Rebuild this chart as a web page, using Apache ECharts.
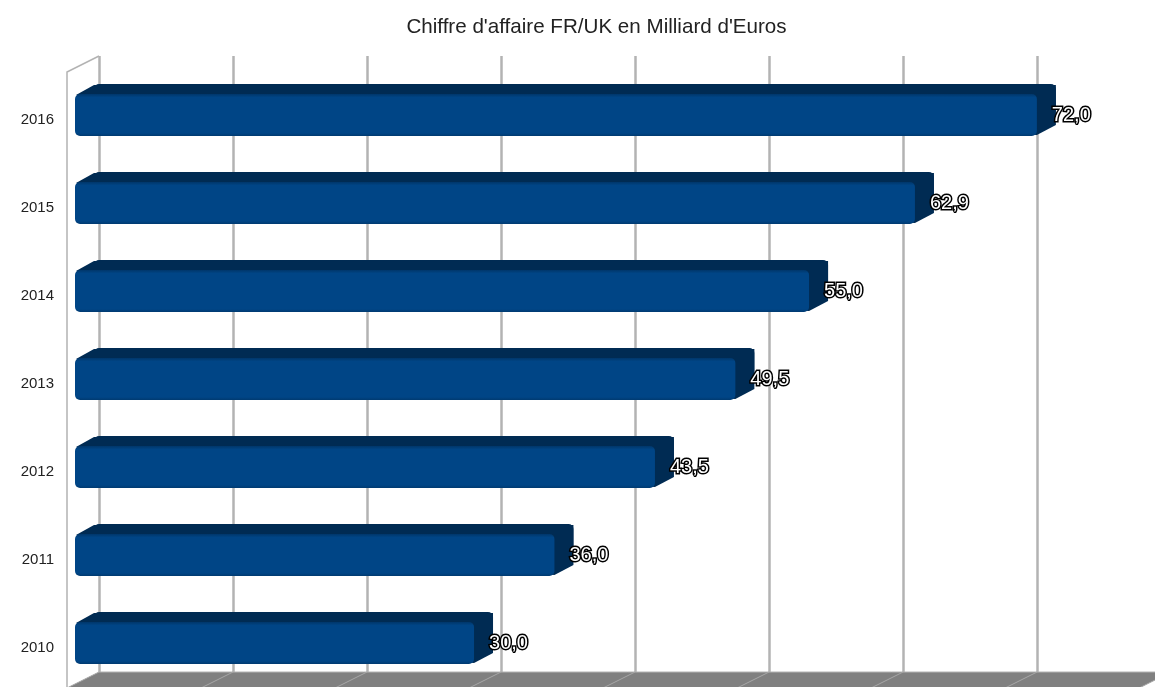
<!DOCTYPE html>
<html>
<head>
<meta charset="utf-8">
<style>
  html, body { margin: 0; padding: 0; background: #fff; }
  #chart { width: 1155px; height: 687px; }
</style>
<script src="https://cdn.jsdelivr.net/npm/echarts@6/dist/echarts.min.js"></script>
</head>
<body>
<div id="chart"></div>
<script>
var annees = ['2010', '2011', '2012', '2013', '2014', '2015', '2016'];
var chiffreAffaire = [30.0, 36.0, 43.5, 49.5, 55.0, 62.9, 72.0];
var graduations = [0, 10, 20, 30, 40, 50, 60, 70, 80];

var fontFamily = '"Liberation Sans", Arial, sans-serif';
var color_blue = '#004586';
var color_blue_dark = '#002b53';
var color_grid = '#b3b3b3';

// mur gauche et sol, dessines derriere les barres
function renderSol(params, api) {
  var sys = params.coordSys;
  var bas = sys.y + sys.height;
  var x0 = sys.x;
  var x1 = api.coord([80, 0])[0];
  var elements = [
    {
      type: 'polygon',
      shape: {points: [[x0, bas], [x1, bas], [x1 - 32, bas + 16], [x0 - 32, bas + 16]]},
      style: {fill: '#808080'}
    },
    {
      type: 'line',
      shape: {x1: x0, y1: bas, x2: x1, y2: bas},
      style: {stroke: color_grid, lineWidth: 1}
    },
    {
      type: 'polyline',
      shape: {points: [[x0 - 32, bas + 16], [x0 - 32, sys.y + 16], [x0, sys.y]]},
      style: {stroke: color_grid, lineWidth: 1.5, fill: null}
    }
  ];
  graduations.forEach(function (v) {
    var x = api.coord([v, 0])[0];
    elements.push({
      type: 'line',
      shape: {x1: x, y1: bas, x2: x - 32, y2: bas + 16},
      style: {stroke: '#a6a6a6', lineWidth: 1}
    });
  });
  return {type: 'group', children: elements};
}

// barre 3D : face avant, dessus et cote
function renderBarre(params, api) {
  var base = api.coord([0, api.value(1)]);
  var fin = api.coord([api.value(0), api.value(1)]);
  var g = base[0] - 24;
  var d = fin[0] - 27;
  var haut = base[1] - 6;
  var bas = base[1] + 36;
  var px = 19;
  var py = 10;
  return {
    type: 'group',
    children: [
      {
        type: 'rect',
        shape: {x: g + px, y: haut - py, width: d - g, height: bas - haut - 10, r: 5},
        style: {fill: color_blue_dark}
      },
      {
        type: 'polygon',
        shape: {points: [[g + 1, haut + 1], [g + px, haut - py + 1], [d + px, haut - py + 1], [d + px, bas - py - 1], [d, bas - 1]]},
        style: {fill: color_blue_dark}
      },
      {
        type: 'rect',
        shape: {x: g, y: haut, width: d - g, height: bas - haut, r: 5},
        style: {
          fill: new echarts.graphic.LinearGradient(0, 0, 0, 1, [
            {offset: 0, color: '#00366a'},
            {offset: 0.08, color: color_blue},
            {offset: 0.93, color: color_blue},
            {offset: 1, color: '#003a70'}
          ])
        }
      },
      {
        type: 'text',
        style: {
          x: d + px - 4,
          y: base[1] + 15,
          text: api.value(0).toFixed(1).replace('.', ','),
          fill: '#fff',
          stroke: '#000000',
          lineWidth: 3,
          font: '20px ' + fontFamily,
          align: 'left',
          verticalAlign: 'middle'
        }
      }
    ]
  };
}

var chart = echarts.init(document.getElementById('chart'), null, {renderer: 'canvas'});
chart.setOption({
  animation: false,
  backgroundColor: '#ffffff',
  title: {
    text: "Chiffre d'affaire FR/UK en Milliard d'Euros",
    left: 591.5,
    top: 12,
    textAlign: 'center',
    textStyle: {fontFamily: fontFamily, fontSize: 20.6, fontWeight: 'normal', color: '#222222'}
  },
  grid: {left: 99, top: 56, right: 0, height: 616},
  xAxis: {
    type: 'value',
    min: 0,
    max: 78.8,
    interval: 10,
    axisLine: {show: false},
    axisTick: {show: false},
    axisLabel: {show: false},
    splitLine: {show: true, showMaxLine: false, lineStyle: {color: color_grid, width: 2.5}}
  },
  yAxis: {
    type: 'category',
    data: annees,
    axisLine: {show: false},
    axisTick: {show: false},
    splitLine: {show: false},
    axisLabel: {
      margin: 45,
      verticalAlign: 'top',
      lineHeight: 40,
      fontFamily: fontFamily,
      fontSize: 15,
      color: '#222222'
    }
  },
  series: [
    {
      type: 'custom',
      name: 'sol',
      z: 1,
      silent: true,
      clip: false,
      renderItem: renderSol,
      encode: {x: 0, y: 1},
      data: [[0, 0]]
    },
    {
      type: 'custom',
      name: "Chiffre d'affaire",
      z: 3,
      clip: false,
      renderItem: renderBarre,
      encode: {x: 0, y: 1},
      data: chiffreAffaire.map(function (v, i) { return [v, i]; })
    }
  ]
});
</script>
</body>
</html>
